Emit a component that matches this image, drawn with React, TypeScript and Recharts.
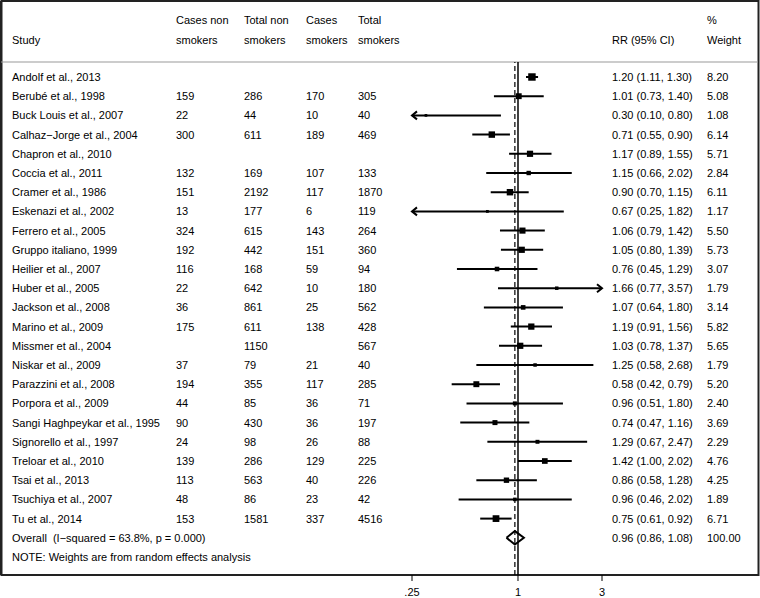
import { ComposedChart, Scatter, XAxis, YAxis, ReferenceLine, Customized } from 'recharts'

const FONT = '"Liberation Sans", Arial, Helvetica, sans-serif'
const AXIS_MIN = 0.25
const AXIS_MAX = 3
const axisTicks = [0.25, 1, 3]

const studies = [
  'Andolf et al., 2013', 'Berubé et al., 1998', 'Buck Louis et al., 2007', 'Calhaz\u2212Jorge et al., 2004',
  'Chapron et al., 2010', 'Coccia et al., 2011', 'Cramer et al., 1986', 'Eskenazi et al., 2002',
  'Ferrero et al., 2005', 'Gruppo italiano, 1999', 'Heilier et al., 2007', 'Huber et al., 2005',
  'Jackson et al., 2008', 'Marino et al., 2009', 'Missmer et al., 2004', 'Niskar et al., 2009',
  'Parazzini et al., 2008', 'Porpora et al., 2009', 'Sangi Haghpeykar et al., 1995', 'Signorello et al., 1997',
  'Treloar et al., 2010', 'Tsai et al., 2013', 'Tsuchiya et al., 2007', 'Tu et al., 2014',
]
const casesNon = ['', '159', '22', '300', '', '132', '151', '13', '324', '192', '116', '22', '36', '175', '', '37', '194', '44', '90', '24', '139', '113', '48', '153']
const totalNon = ['', '286', '44', '611', '', '169', '2192', '177', '615', '442', '168', '642', '861', '611', '1150', '79', '355', '85', '430', '98', '286', '563', '86', '1581']
const casesSm = ['', '170', '10', '189', '', '107', '117', '6', '143', '151', '59', '10', '25', '138', '', '21', '117', '36', '36', '26', '129', '40', '23', '337']
const totalSm = ['', '305', '40', '469', '', '133', '1870', '119', '264', '360', '94', '180', '562', '428', '567', '40', '285', '71', '197', '88', '225', '226', '42', '4516']
const rr = [1.20, 1.01, 0.30, 0.71, 1.17, 1.15, 0.90, 0.67, 1.06, 1.05, 0.76, 1.66, 1.07, 1.19, 1.03, 1.25, 0.58, 0.96, 0.74, 1.29, 1.42, 0.86, 0.96, 0.75]
const lo = [1.11, 0.73, 0.10, 0.55, 0.89, 0.66, 0.70, 0.25, 0.79, 0.80, 0.45, 0.77, 0.64, 0.91, 0.78, 0.58, 0.42, 0.51, 0.47, 0.67, 1.00, 0.58, 0.46, 0.61]
const hi = [1.30, 1.40, 0.80, 0.90, 1.55, 2.02, 1.15, 1.82, 1.42, 1.39, 1.29, 3.57, 1.80, 1.56, 1.37, 2.68, 0.79, 1.80, 1.16, 2.47, 2.02, 1.28, 2.02, 0.92]
const weight = [8.20, 5.08, 1.08, 6.14, 5.71, 2.84, 6.11, 1.17, 5.50, 5.73, 3.07, 1.79, 3.14, 5.82, 5.65, 1.79, 5.20, 2.40, 3.69, 2.29, 4.76, 4.25, 1.89, 6.71]

const overallLabel = 'Overall  (I\u2212squared = 63.8%, p = 0.000)'
const overall = { rr: 0.96, lo: 0.86, hi: 1.08, weight: 100 }
const noteText = 'NOTE: Weights are from random effects analysis'

const fmt = (v: number) => v.toFixed(2)

const boxes = studies.map((_, i) => ({ x: rr[i], y: i, w: weight[i] }))

const ciSegments = studies.map((_, i) => [
  { x: Math.max(lo[i], AXIS_MIN), y: i, arrow: lo[i] <= AXIS_MIN ? 'left' : '' },
  { x: Math.min(hi[i], AXIS_MAX), y: i, arrow: hi[i] >= AXIS_MAX ? 'right' : '' },
])

const diamond = [
  { x: overall.lo, y: studies.length },
  { x: overall.rr, y: studies.length - 0.35 },
  { x: overall.hi, y: studies.length },
  { x: overall.rr, y: studies.length + 0.35 },
  { x: overall.lo, y: studies.length },
]

const tableRows = [
  ...studies.map((s, i) => ({
    x: 1, y: i, cols: [s, casesNon[i], totalNon[i], casesSm[i], totalSm[i], `${fmt(rr[i])} (${fmt(lo[i])}, ${fmt(hi[i])})`, fmt(weight[i])],
  })),
  { x: 1, y: studies.length, cols: [overallLabel, '', '', '', '', `${fmt(overall.rr)} (${fmt(overall.lo)}, ${fmt(overall.hi)})`, fmt(overall.weight)] },
  { x: 1, y: studies.length + 1, cols: [noteText, '', '', '', '', '', ''] },
]

const colX = [12, 176, 244, 306, 358, 612, 707]

function TableRow(props: any) {
  const { cy, payload } = props
  return (
    <g>
      {payload.cols.map((c: string, k: number) =>
        c ? (
          <text key={k} x={colX[k]} y={cy + 4} fontSize={11} fontFamily={FONT} fill="#000" style={{ whiteSpace: 'pre' }}>
            {c}
          </text>
        ) : null
      )}
    </g>
  )
}

function WeightBox(props: any) {
  const { cx, cy, payload } = props
  const s = 2.6 * Math.sqrt(payload.w)
  return <rect x={cx - s / 2} y={cy - s / 2} width={s} height={s} fill="#000" />
}

function CiEnd(props: any) {
  const { cx, cy, payload } = props
  if (payload.arrow === 'left')
    return <path d={`M${cx + 5},${cy - 4} L${cx},${cy} L${cx + 5},${cy + 4}`} fill="none" stroke="#000" strokeWidth={2} />
  if (payload.arrow === 'right')
    return <path d={`M${cx - 5},${cy - 4} L${cx},${cy} L${cx - 5},${cy + 4}`} fill="none" stroke="#000" strokeWidth={2} />
  return <g />
}

function Frame() {
  const t = { fontSize: 11, fontFamily: FONT, fill: '#000' }
  return (
    <g>
      <rect x={1.5} y={1} width={757} height={574} fill="none" stroke="#222" strokeWidth={2} />
      <line x1={1} x2={1} y1={1} y2={575} stroke="#222" strokeWidth={2} />
      <line x1={1} x2={758} y1={62} y2={62} stroke="#999" strokeWidth={1} />
      <text x={12} y={44} {...t}>Study</text>
      <text x={176} y={24} {...t}>Cases non</text>
      <text x={176} y={44} {...t}>smokers</text>
      <text x={244} y={24} {...t}>Total non</text>
      <text x={244} y={44} {...t}>smokers</text>
      <text x={306} y={24} {...t}>Cases</text>
      <text x={306} y={44} {...t}>smokers</text>
      <text x={358} y={24} {...t}>Total</text>
      <text x={358} y={44} {...t}>smokers</text>
      <text x={612} y={44} {...t}>RR (95% CI)</text>
      <text x={707} y={24} {...t}>%</text>
      <text x={707} y={44} {...t}>Weight</text>
    </g>
  )
}

export default function App() {
  return (
    <div style={{ position: 'absolute', left: 0, top: 0, background: '#fff' }}>
      <ComposedChart width={760} height={598} margin={{ top: 62, right: 158, bottom: 0, left: 412 }}>
        <XAxis
          type="number"
          dataKey="x"
          scale="log"
          domain={[AXIS_MIN, AXIS_MAX]}
          ticks={axisTicks}
          tickFormatter={(v: number) => (v === 0.25 ? '.25' : String(v))}
          axisLine={false}
          tickLine={{ stroke: '#000' }}
          tickSize={6}
          tickMargin={7}
          height={23}
          tick={{ fill: '#000', fontSize: 11, fontFamily: FONT }}
        />
        <YAxis type="number" dataKey="y" domain={[-0.78125, 25.9375]} reversed hide />
        <Customized component={Frame} />
        <ReferenceLine x={1} stroke="#000" strokeWidth={1.5} />
        <ReferenceLine x={overall.rr} stroke="#000" strokeWidth={1.2} strokeDasharray="5 3" />
        {ciSegments.map((seg, i) => (
          <Scatter key={i} data={seg} line={{ stroke: '#000', strokeWidth: 2 }} lineType="joint" shape={CiEnd} isAnimationActive={false} />
        ))}
        <Scatter data={boxes} shape={WeightBox} isAnimationActive={false} />
        <Scatter data={diamond} line={{ stroke: '#000', strokeWidth: 2 }} lineType="joint" shape={() => <g />} isAnimationActive={false} />
        <Scatter data={tableRows} shape={TableRow} isAnimationActive={false} />
      </ComposedChart>
    </div>
  )
}
